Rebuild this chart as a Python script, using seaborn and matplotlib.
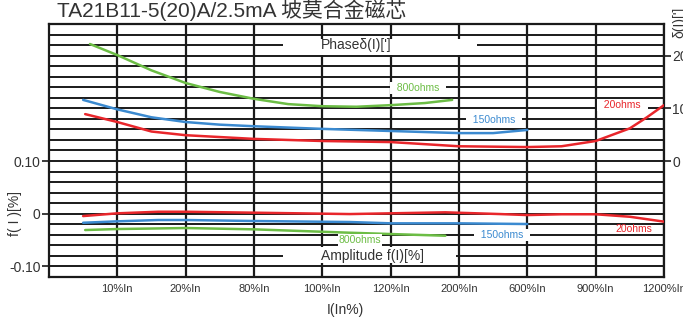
import numpy as np
import matplotlib
matplotlib.use("Agg")
import matplotlib.pyplot as plt
import seaborn as sns
from matplotlib.patches import Rectangle

# ---- data -------------------------------------------------------------
# current points along the horizontal scale (grid index 1..9)
current_labels = ["10%In", "20%In", "80%In", "100%In", "120%In",
                  "200%In", "600%In", "900%In", "1200%In"]
current_pos = [1, 2, 3, 4, 5, 6, 7, 8, 9]

# phase error δ(I) in minutes (right axis)
phase_800_x = [0.60, 1.0, 1.5, 2.0, 2.5, 3.0, 3.5, 4.0, 4.5, 5.0, 5.5, 5.9]
phase_800 = [22.2, 20.1, 17.2, 14.8, 13.1, 11.8, 10.8, 10.4, 10.3, 10.6, 11.0, 11.6]

phase_150_x = [0.5, 1.0, 1.5, 2.0, 2.5, 3.0, 4.0, 5.0, 6.0, 6.5, 7.0]
phase_150 = [11.6, 9.8, 8.3, 7.4, 6.9, 6.6, 6.1, 5.7, 5.3, 5.3, 5.9]

phase_20_x = [0.53, 1.0, 1.5, 2.0, 3.0, 4.0, 5.0, 6.0, 7.0, 7.5, 8.0, 8.5, 8.75, 9.0]
phase_20 = [8.9, 7.4, 5.6, 4.9, 4.2, 3.8, 3.6, 2.8, 2.65, 2.8, 3.8, 6.2, 8.3, 10.6]

# ratio error f(I) in % (left axis)
amp_20_x = [0.5, 1.0, 1.6, 2.0, 3.0, 4.4, 5.0, 5.8, 6.6, 7.0, 7.5, 8.0, 8.5, 9.0]
amp_20 = [-0.0044, 0.0008, 0.0038, 0.0038, 0.0020, -0.0006, 0.0008, 0.0027,
          -0.0006, -0.0025, -0.0010, -0.0010, -0.0057, -0.0150]

amp_150_x = [0.5, 1.0, 1.6, 2.0, 3.0, 4.4, 5.0, 6.0, 7.0]
amp_150 = [-0.0171, -0.0144, -0.0119, -0.0119, -0.0138, -0.0157, -0.0182, -0.0182, -0.0195]

amp_800_x = [0.53, 1.0, 2.0, 3.0, 4.4, 5.0, 5.8]
amp_800 = [-0.0309, -0.0290, -0.0271, -0.0296, -0.0360, -0.0385, -0.0417]

GREEN = "#6cbd45"
BLUE = "#3b8ad0"
RED = "#e8262b"
INK = "#1a1a1a"

# ---- style ------------------------------------------------------------
sns.set_theme(style="white")
plt.rcParams["font.family"] = ["Liberation Sans", "Noto Sans CJK SC", "DejaVu Sans"]

fig = plt.figure(figsize=(6.83, 3.25), dpi=100)
ax = fig.add_axes([0.0717, 0.1477, 0.9005, 0.7785])
ax.set_facecolor("white")

ax.set_xlim(0, 9)
ax.set_ylim(-0.12, 0.36)

# grid: vertical line at every current point, horizontal every 0.02
ax.set_xticks(current_pos)
ax.set_xticklabels(current_labels, fontsize=8, color="#333333")
ax.tick_params(axis="x", length=0, pad=5)

ax.set_yticks([-0.10, 0, 0.10])
ax.set_yticklabels(["-0.10", "0", "0.10"], fontsize=10, color="#333333")
ax.set_yticks(np.arange(-0.12, 0.3601, 0.02), minor=True)
ax.tick_params(axis="y", which="major", direction="out", length=5, width=1.2,
               color=INK, pad=1, left=True)
ax.tick_params(axis="y", which="minor", length=0)

ax.set_axisbelow(True)
ax.grid(True, axis="y", which="both", color=INK, lw=1.4)
ax.grid(True, axis="x", which="major", color=INK, lw=1.6)

for sp in ax.spines.values():
    sp.set_visible(True)
    sp.set_color(INK)
    sp.set_linewidth(1.6)

# blank panels behind the two section captions
ax.add_patch(Rectangle((0.380, 0.877), 0.316, 0.064, transform=ax.transAxes,
                       facecolor="white", edgecolor="none", zorder=1))
ax.add_patch(Rectangle((0.380, 0.055), 0.282, 0.064, transform=ax.transAxes,
                       facecolor="white", edgecolor="none", zorder=1))
ax.text(3.98, 0.320, "Phaseδ(I)[']", fontsize=10, color="#333333",
        ha="left", va="center", zorder=2)
ax.text(3.98, -0.0796, "Amplitude f(I)[%]", fontsize=10, color="#333333",
        ha="left", va="center", zorder=2)

# ratio error curves
for xs, ys, c in [(amp_800_x, amp_800, GREEN),
                  (amp_150_x, amp_150, BLUE),
                  (amp_20_x, amp_20, RED)]:
    sns.lineplot(x=xs, y=ys, ax=ax, color=c, lw=1.8, legend=False, zorder=3)

box = dict(facecolor="white", edgecolor="none", boxstyle="square,pad=0.1")
ax.text(4.55, -0.050, "800ohms", fontsize=7.5, color=GREEN, ha="center",
        va="center", zorder=4, bbox=box)
ax.text(6.63, -0.0404, "  150ohms  ", fontsize=7.5, color=BLUE, ha="center",
        va="center", zorder=4, bbox=box)
ax.text(8.56, -0.029, "20ohms", fontsize=7.5, color=RED, ha="center",
        va="center", zorder=4)

ax.set_xlabel("")
ax.set_ylabel("")

# phase error on the right-hand scale
ax2 = ax.twinx()
ax2.set_ylim(-22, 26)
ax2.set_yticks([0, 10, 20])
ax2.set_yticklabels(["0", "10", "20"], fontsize=10, color="#333333")
ax2.tick_params(axis="y", direction="out", length=5, width=1.2, color=INK,
                pad=1, right=True)
ax2.grid(False)
for sp in ax2.spines.values():
    sp.set_visible(False)

for xs, ys, c in [(phase_800_x, phase_800, GREEN),
                  (phase_150_x, phase_150, BLUE),
                  (phase_20_x, phase_20, RED)]:
    sns.lineplot(x=xs, y=ys, ax=ax2, color=c, lw=1.8, legend=False, zorder=3)

ax2.text(5.40, 13.8, "  800ohms  ", fontsize=7.5, color=GREEN, ha="center",
         va="center", zorder=4, bbox=box)
ax2.text(6.51, 7.8, "  150ohms  ", fontsize=7.5, color=BLUE, ha="center",
         va="center", zorder=4, bbox=box)
ax2.text(8.39, 10.6, "  20ohms  ", fontsize=7.5, color=RED, ha="center",
         va="center", zorder=4, bbox=box)
ax2.set_xlim(0, 9)
ax2.set_ylabel("")

# titles and axis captions
fig.text(57 / 683, 1 - 17 / 325, "TA21B11-5(20)A/2.5mA 坡莫合金磁芯",
         fontsize=15, color="#333333", ha="left", va="baseline")
fig.text(15 / 683, 1 - 213 / 325, "f( I )[%]", rotation=90, fontsize=10,
         color="#333333", ha="center", va="center")
fig.text(345 / 683, 1 - 310 / 325, "I(In%)", fontsize=10, color="#333333",
         ha="center", va="center")
fig.text(679 / 683, 1 - 38 / 325, "δ(I)[']", rotation=90, fontsize=10,
         color="#333333", ha="center", va="bottom")

fig.savefig("out.png", dpi=100)
